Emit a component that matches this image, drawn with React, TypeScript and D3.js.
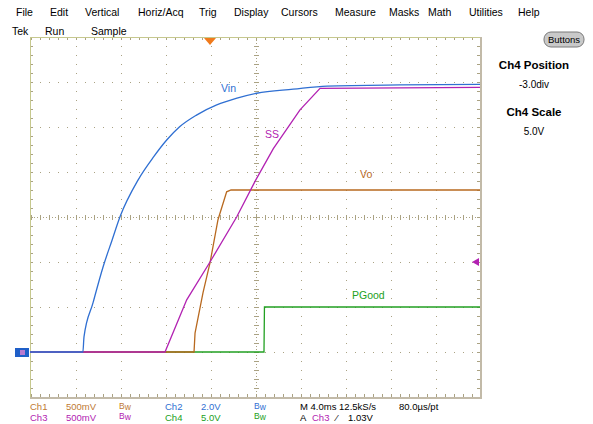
import React, { useEffect, useRef } from 'react';
import * as d3 from 'd3';

// [time in ms relative to trigger, volts]
type Pt = [number, number];

const vin: Pt[] = [
  [-16, 0], [-11.3, 0], [-11.2, 0.67], [-10.4, 2.18], [-9.5, 3.79], [-8.7, 4.98],
  [-8.0, 6.01], [-6.4, 7.64], [-5.0, 8.68], [-3.85, 9.42], [-2.7, 10.01], [-1.2, 10.53],
  [0.6, 10.98], [2.4, 11.28], [4.15, 11.5], [7.4, 11.68], [10.4, 11.82], [16.9, 11.87], [24, 11.89],
];
const ss: Pt[] = [
  [-16, 0], [-4.0, 0], [-2.07, 0.58], [0, 1.0], [2.37, 1.5], [4.06, 1.91],
  [5.63, 2.26], [8.0, 2.69], [9.78, 2.93], [24, 2.94],
];
const vo: Pt[] = [
  [-16, 0], [-1.42, 0], [-1.33, 0.21], [-0.62, 0.66], [0, 0.99], [0.71, 1.47],
  [1.48, 1.78], [1.87, 1.8], [24, 1.8],
];
const pgood: Pt[] = [[-16, 0], [4.8, 0], [4.84, 5.0], [24, 5.0]];

const menuLabels = ['File', 'Edit', 'Vertical', 'Horiz/Acq', 'Trig', 'Display', 'Cursors', 'Measure', 'Masks', 'Math', 'Utilities', 'Help'];
const menuX = [16, 50, 85, 138, 199, 234, 281, 335, 389, 428, 469, 518];

const channels = [
  { name: 'Vin', data: vin, scale: 2.0, pos: -3, color: '#2f6fd2', label: [221, 92] },
  { name: 'SS', data: ss, scale: 0.5, pos: -3, color: '#b222b2', label: [265, 138] },
  { name: 'Vo', data: vo, scale: 0.5, pos: -3, color: '#b8691f', label: [360, 178] },
  { name: 'PGood', data: pgood, scale: 5.0, pos: -3, color: '#22a022', label: [352, 299] },
];

const FONT = '"Liberation Sans", Arial, sans-serif';

const App: React.FC = () => {
  const svgRef = useRef<SVGSVGElement | null>(null);

  useEffect(() => {
    const svg = d3.select(svgRef.current);
    svg.selectAll('*').remove();

    const x = d3.scaleLinear().domain([-16, 24]).range([30, 480]);
    const y = d3.scaleLinear().domain([-4, 4]).range([397, 37]);
    const gx = d3.scaleLinear().domain([0, 10]).range([31, 481]);
    const gy = d3.scaleLinear().domain([0, 8]).range([37, 397]);
    const gridColor = '#aaa283';

    svg.append('rect').attr('width', 593).attr('height', 424).attr('fill', '#fff');

    const txt = (s: string, tx: number, ty: number, color = '#000', size = 10.5, weight = 'normal', anchor = 'start') =>
      svg.append('text').attr('x', tx).attr('y', ty).attr('fill', color)
        .attr('font-size', size).attr('font-weight', weight).attr('text-anchor', anchor)
        .attr('font-family', FONT).text(s);

    // menu bar
    menuLabels.forEach((m, i) => txt(m, menuX[i], 16));
    txt('Tek', 12, 35);
    txt('Run', 45, 35);
    txt('Sample', 91, 35);

    // grid dots on major lines
    const g = svg.append('g');
    const minor = d3.range(0, 40.01, 1).map(d => d / 5);
    const minorX = d3.range(0, 50.01, 1).map(d => d / 5);
    d3.range(1, 10).filter(i => i !== 5).forEach(i => {
      minor.forEach(j => g.append('rect').attr('x', gx(i)).attr('y', gy(j)).attr('width', 1).attr('height', 1).attr('fill', gridColor));
    });
    d3.range(1, 8).filter(i => i !== 4).forEach(i => {
      minorX.forEach(j => g.append('rect').attr('x', gx(j)).attr('y', gy(i)).attr('width', 1).attr('height', 1).attr('fill', gridColor));
    });

    // center cross with ticks
    g.append('line').attr('x1', 31).attr('x2', 480).attr('y1', gy(4) + 0.5).attr('y2', gy(4) + 0.5)
      .attr('stroke', gridColor).attr('stroke-dasharray', '1,2');
    g.append('line').attr('x1', gx(5) + 0.5).attr('x2', gx(5) + 0.5).attr('y1', 37).attr('y2', 397)
      .attr('stroke', gridColor).attr('stroke-dasharray', '1,2');
    minorX.forEach(j => g.append('line').attr('x1', gx(j) + 0.5).attr('x2', gx(j) + 0.5)
      .attr('y1', gy(4) - 2).attr('y2', gy(4) + 3).attr('stroke', gridColor));
    minor.forEach(j => g.append('line').attr('x1', gx(5) - 2).attr('x2', gx(5) + 3)
      .attr('y1', gy(j) + 0.5).attr('y2', gy(j) + 0.5).attr('stroke', gridColor));

    // border ticks
    minorX.forEach(j => {
      g.append('line').attr('x1', gx(j) + 0.5).attr('x2', gx(j) + 0.5).attr('y1', 37).attr('y2', 40).attr('stroke', gridColor);
      g.append('line').attr('x1', gx(j) + 0.5).attr('x2', gx(j) + 0.5).attr('y1', 394).attr('y2', 397).attr('stroke', gridColor);
    });
    minor.forEach(j => {
      g.append('line').attr('x1', 30).attr('x2', 33).attr('y1', gy(j) + 0.5).attr('y2', gy(j) + 0.5).attr('stroke', gridColor);
      g.append('line').attr('x1', 477).attr('x2', 480).attr('y1', gy(j) + 0.5).attr('y2', gy(j) + 0.5).attr('stroke', gridColor);
    });

    // borders
    g.append('line').attr('x1', 30).attr('x2', 481).attr('y1', 37.5).attr('y2', 37.5).attr('stroke', '#c6c88e');
    g.append('line').attr('x1', 30.5).attr('x2', 30.5).attr('y1', 37).attr('y2', 398).attr('stroke', '#c6c88e');
    g.append('line').attr('x1', 481).attr('x2', 481).attr('y1', 37).attr('y2', 399).attr('stroke', '#c2baa8').attr('stroke-width', 2);
    g.append('line').attr('x1', 30).attr('x2', 482).attr('y1', 398).attr('y2', 398).attr('stroke', '#c2baa8').attr('stroke-width', 2);

    // traces
    channels.slice().reverse().forEach(ch => {
      const line = d3.line<Pt>()
        .x(d => x(d[0]))
        .y(d => y(d[1] / ch.scale + ch.pos))
        .curve(ch.name === 'Vin' ? d3.curveMonotoneX : d3.curveLinear);
      svg.append('path').datum(ch.data).attr('fill', 'none')
        .attr('stroke', ch.color).attr('stroke-width', 1.3).attr('d', line);
      txt(ch.name, ch.label[0], ch.label[1], ch.color);
    });

    // trigger position marker
    svg.append('path').attr('d', `M${x(0) - 6},38 L${x(0) + 6},38 L${x(0)},45 Z`).attr('fill', '#f07a1c');
    // trigger level marker
    const tl = y(1.0 / 0.5 - 3);
    svg.append('path').attr('d', `M472,${tl} L479,${tl - 4} L479,${tl + 4} Z`).attr('fill', '#b222b2');
    // ground marker
    svg.append('rect').attr('x', 15).attr('y', 348).attr('width', 14).attr('height', 9).attr('fill', '#1f5fc8');
    svg.append('rect').attr('x', 20).attr('y', 350).attr('width', 5).attr('height', 5).attr('fill', '#b87ad0');

    // right panel
    svg.append('rect').attr('x', 544).attr('y', 32).attr('width', 40).attr('height', 15).attr('rx', 7)
      .attr('fill', '#c9c9c9').attr('stroke', '#7a7a7a');
    txt('Buttons', 564, 43, '#000', 9.5, 'normal', 'middle');
    txt('Ch4 Position', 534, 69, '#000', 11.5, 'bold', 'middle');
    txt('-3.0div', 534, 88, '#000', 10, 'normal', 'middle');
    txt('Ch4 Scale', 534, 116, '#000', 11.5, 'bold', 'middle');
    txt('5.0V', 534, 135, '#000', 10, 'normal', 'middle');

    // status bar
    const bw = (bx: number, by: number, color: string) => {
      const t = svg.append('text').attr('x', bx).attr('y', by).attr('fill', color).attr('font-family', FONT).attr('font-size', 8.5);
      t.append('tspan').text('B');
      t.append('tspan').attr('dy', 1).text('w');
    };
    const c1 = '#c07a34', c2 = '#2f6fd2', c3 = '#b222b2', c4 = '#22a022';
    const fs = 9.5;
    txt('Ch1', 30, 410, c1, fs); txt('500mV', 66, 410, c1, fs); bw(119, 409, c1);
    txt('Ch2', 165, 410, c2, fs); txt('2.0V', 201, 410, c2, fs); bw(254, 409, c2);
    txt('M 4.0ms 12.5kS/s', 300, 410, '#000', fs); txt('80.0µs/pt', 399, 410, '#000', fs);
    txt('Ch3', 30, 421, c3, fs); txt('500mV', 66, 421, c3, fs); bw(119, 419, c3);
    txt('Ch4', 165, 421, c4, fs); txt('5.0V', 201, 421, c4, fs); bw(254, 419, c4);
    txt('A', 300, 421, '#000', fs); txt('Ch3', 312, 421, c3, fs); txt('⁄', 336, 421, '#000', fs); txt('1.03V', 348, 421, '#000', fs);
  }, []);

  return (
    <svg ref={svgRef} width={593} height={424} style={{ position: 'absolute', left: 0, top: 0, display: 'block' }}></svg>
  );
};

export default App;
